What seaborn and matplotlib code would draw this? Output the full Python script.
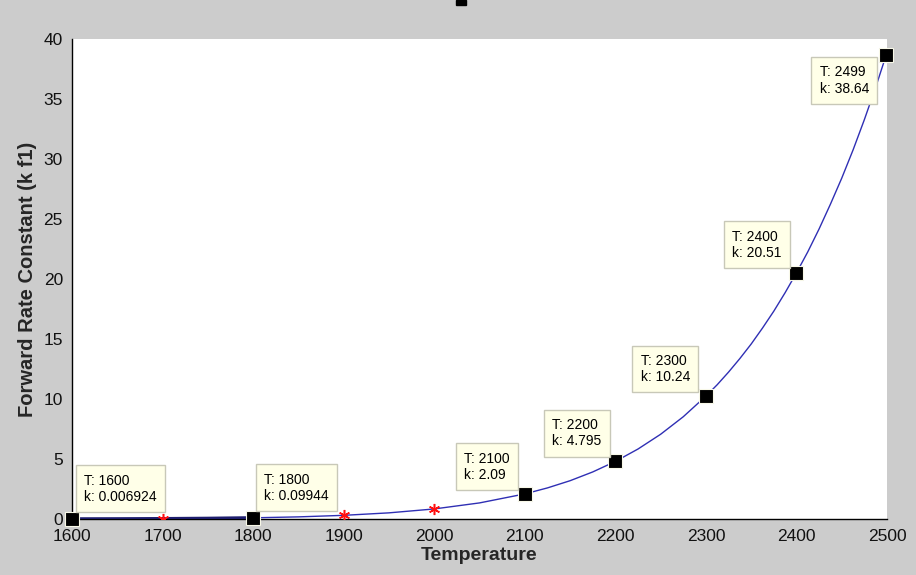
import matplotlib
matplotlib.use("Agg")
import matplotlib.pyplot as plt
import seaborn as sns
import pandas as pd
from matplotlib.patches import Rectangle

# ---- data ----
curve_T = [1600, 1650, 1700, 1750, 1800, 1850, 1900, 1950, 2000, 2050, 2100,
           2125, 2150, 2175, 2200, 2225, 2250, 2275, 2300, 2312.5, 2325, 2337.5,
           2350, 2362.5, 2375, 2387.5, 2400, 2412.5, 2425, 2437.5, 2450, 2462.5,
           2475, 2487.5, 2499]
curve_k = [0.0069, 0.014, 0.028, 0.054, 0.099, 0.177, 0.305, 0.512, 0.838, 1.34, 2.09,
           2.59, 3.19, 3.92, 4.795, 5.83, 7.06, 8.52, 10.24, 11.19, 12.24, 13.37,
           14.58, 15.91, 17.32, 18.86, 20.51, 22.26, 24.17, 26.23, 28.4, 30.75,
           33.28, 35.98, 38.64]

tip_T = [1600, 1800, 2100, 2200, 2300, 2400, 2499]
tip_k = [0.006924, 0.09944, 2.09, 4.795, 10.24, 20.51, 38.64]
tip_labels = ["T: 1600\nk: 0.006924", "T: 1800\nk: 0.09944", "T: 2100\nk: 2.09",
              "T: 2200\nk: 4.795", "T: 2300\nk: 10.24", "T: 2400\nk: 20.51",
              "T: 2499\nk: 38.64"]

star_T = [1700, 1900, 2000]
star_k = [0.028, 0.305, 0.838]

x_ticks = [1600, 1700, 1800, 1900, 2000, 2100, 2200, 2300, 2400, 2500]
y_ticks = [0, 5, 10, 15, 20, 25, 30, 35, 40]
x_label = "Temperature"
y_label = "Forward Rate Constant (k f1)"

# ---- styling ----
sns.set_style("white")
plt.rcParams["font.family"] = ["Liberation Sans", "DejaVu Sans"]

W, H = 916, 575
fig = plt.figure(figsize=(W / 100, H / 100), dpi=100, facecolor="#cccccc")
ax = fig.add_axes([72 / W, 1 - 519 / H, 815 / W, 480 / H])
ax.set_facecolor("white")

df = pd.DataFrame({"T": curve_T, "k": curve_k})
sns.lineplot(data=df, x="T", y="k", ax=ax, color="#2f2fb4", linewidth=1.0,
             estimator=None, sort=False, zorder=3)
sns.lineplot(data=df[df["T"] <= 1800], x="T", y="k", ax=ax, color="#1e1e6e",
             linewidth=2.4, estimator=None, sort=False, zorder=3)

ax.plot(star_T, star_k, linestyle="none", marker=(6, 2, 0), markersize=8,
        markeredgewidth=1.1, color="#ff1010", zorder=4)

ax.plot(tip_T, tip_k, linestyle="none", marker="s", markersize=9.5,
        markerfacecolor="black", markeredgecolor="#f8f8e8", markeredgewidth=0.8,
        zorder=6, clip_on=False)

offsets = [(12, 15, "left", "bottom"), (11, 15, "left", "bottom"),
           (-15, 12, "right", "bottom"), (-14, 13, "right", "bottom"),
           (-16, 12, "right", "bottom"), (-15, 13, "right", "bottom"),
           (-17, -10, "right", "top")]
for t, k, lab, (dx, dy, ha, va) in zip(tip_T, tip_k, tip_labels, offsets):
    ax.annotate(lab, xy=(t, k), xytext=(dx, dy), textcoords="offset pixels",
                ha=ha, va=va, multialignment="left", fontsize=10, linespacing=1.2,
                color="black",
                bbox=dict(boxstyle="square,pad=0.6", fc="#ffffe8", ec="#c8c8b8", lw=1),
                zorder=7, annotation_clip=False)

ax.set_xlim(1600, 2500)
ax.set_ylim(0, 40)
ax.set_xticks(x_ticks)
ax.set_yticks(y_ticks)
ax.tick_params(direction="in", length=7, width=1, color="black",
               labelsize=12.5, labelcolor="#111111")
ax.tick_params(axis="x", pad=7)
ax.tick_params(axis="y", pad=6.5)
for s in ["top", "right"]:
    ax.spines[s].set_visible(False)
for s in ["left", "bottom"]:
    ax.spines[s].set_color("black")
    ax.spines[s].set_linewidth(1)

ax.set_xlabel(x_label, fontsize=14, fontweight="bold", labelpad=2)
ax.set_ylabel(y_label, fontsize=14.5, fontweight="bold", labelpad=5)

fig.patches.append(Rectangle((456 / W, 1 - 5 / H), 10 / W, 5 / H,
                             transform=fig.transFigure, color="black"))

fig.savefig("out.png", dpi=100, facecolor=fig.get_facecolor())
